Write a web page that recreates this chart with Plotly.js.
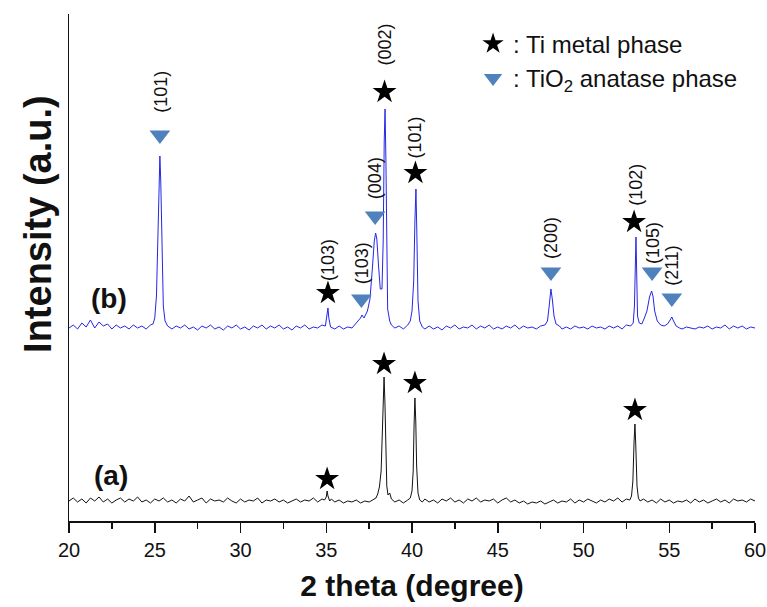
<!DOCTYPE html>
<html>
<head>
<meta charset="utf-8">
<script src="https://cdn.plot.ly/plotly-3.0.1.min.js"></script>
<style>html,body{margin:0;padding:0;background:#fff;}#chart{width:767px;height:607px;}</style>
</head>
<body>
<div id="chart"></div>
<script>
// ---- Pattern (a): Ti metal (black) ----
const xA = [20,20.25,20.5,20.75,21,21.25,21.5,21.75,22,22.25,22.5,22.75,23,23.25,23.5,23.75,24,24.25,24.5,24.75,25,25.25,25.5,25.75,26,26.25,26.5,26.75,27,27.25,27.5,27.75,28,28.25,28.5,28.75,29,29.25,29.5,29.75,30,30.25,30.5,30.75,31,31.25,31.5,31.75,32,32.25,32.5,32.75,33,33.25,33.5,33.75,34,34.25,34.5,34.75,
  34.9,35,35.05,35.1,35.2,35.3,
  35.5,35.75,36,36.25,36.5,36.75,37,37.25,37.5,37.75,
  37.9,38,38.1,38.2,38.27,38.33,38.37,38.42,38.47,38.53,38.6,38.7,38.8,
  39,39.25,39.5,39.75,
  39.9,40,40.07,40.12,40.17,40.22,40.27,40.35,40.45,40.6,
  40.75,41,41.25,41.5,41.75,42,42.25,42.5,42.75,43,43.25,43.5,43.75,44,44.25,44.5,44.75,45,45.25,45.5,45.75,46,46.25,46.5,46.75,47,47.25,47.5,47.75,48,48.25,48.5,48.75,49,49.25,49.5,49.75,50,50.25,50.5,50.75,51,51.25,51.5,51.75,52,52.25,52.5,
  52.7,52.8,52.88,52.95,53,53.05,53.12,53.2,53.3,
  53.5,53.75,54,54.25,54.5,54.75,55,55.25,55.5,55.75,56,56.25,56.5,56.75,57,57.25,57.5,57.75,58,58.25,58.5,58.75,59,59.25,59.5,59.75,60];
const yA = [20,23,19,22,18,23,20,24,19,22, 18,21,23,19,22,20,24,19,21,18, 22,20,23,19,21,18,22,20,25,19, 21,23,18,22,20,21,19,23,20,18, 22,19,21,20,23,18,21,20,22,19, 21,18,20,22,19,21,20,23,19,22,
  21,24,30,25,20,22,
  19,21,18,20,19,21,18,20,19,22,
  23,27,34,50,85,130,144,120,70,35,26,28,22,
  19,21,18,21,
  23,30,50,95,123,100,55,28,21,19,
  22,19,21,18,22,20,23,19,21,18, 22,20,23,19,21,20,22,18,21,23, 19,21,18,20,17,19,18,20,17,19, 21,18,20,19,22,18,21,19,22,20, 18,21,19,22,20,23,19,22,
  21,25,40,80,97,75,35,23,20,
  22,19,21,18,22,19,21,18,20,19, 21,18,22,19,21,18,20,22,19,21, 18,22,20,21,19,22,20];

// ---- Pattern (b): Ti + TiO2 anatase (blue) ----
const xB = [20,20.25,20.5,20.75,21,21.25,21.5,21.75,22,22.25,22.5,22.75,23,23.25,23.5,23.75,24,24.25,24.5,24.75,
  24.9,25,25.1,25.18,25.25,25.3,25.35,25.42,25.5,25.6,
  25.75,26,26.25,26.5,26.75,27,27.25,27.5,27.75,28,28.25,28.5,28.75,29,29.25,29.5,29.75,30,30.25,30.5,30.75,31,31.25,31.5,31.75,32,32.25,32.5,32.75,33,33.25,33.5,33.75,34,34.25,34.5,34.75,
  34.95,35.05,35.1,35.15,35.25,
  35.5,35.75,36,36.25,36.5,36.75,
  37,37.08,37.2,37.4,37.55,37.7,37.8,37.88,37.95,38.05,38.15,38.25,38.32,38.38,38.43,38.48,38.53,38.58,38.63,38.7,38.8,
  39,39.25,39.5,39.75,
  39.9,40,40.1,40.17,40.23,40.28,40.35,40.45,40.6,
  40.75,41,41.25,41.5,41.75,42,42.25,42.5,42.75,43,43.25,43.5,43.75,44,44.25,44.5,44.75,45,45.25,45.5,45.75,46,46.25,46.5,46.75,47,47.25,47.5,47.75,
  47.9,48,48.05,48.1,48.18,48.28,48.4,48.6,
  48.75,49,49.25,49.5,49.75,50,50.25,50.5,50.75,51,51.25,51.5,51.75,52,52.25,52.5,52.75,
  52.9,52.97,53.02,53.06,53.1,53.15,53.25,53.4,53.55,53.7,53.85,53.97,54.05,54.15,54.3,54.5,54.7,54.9,55.05,55.15,55.25,55.4,55.6,
  55.75,56,56.25,56.5,56.75,57,57.25,57.5,57.75,58,58.25,58.5,58.75,59,59.25,59.5,59.75,60];
const yB = [193,196,192,198,194,201,193,199,195,197, 192,196,193,195,192,196,193,195,192,196,
  197,203,225,280,345,365,340,270,215,200,
  195,192,195,193,196,192,194,191,195,193, 196,192,194,191,195,193,196,192,194,191, 195,193,196,192,195,193,196,192,194,191, 195,193,196,192,194,193,196,
  195,205,213,203,194,
  192,195,192,194,193,198,
  203,206,203,210,222,255,280,288,282,255,232,232,280,380,412,360,250,212,207,200,196,
  193,195,192,196,
  200,210,240,300,332,290,220,200,194,
  192,195,192,194,191,195,193,196,192,194, 193,196,192,195,193,196,192,194,192,195, 193,196,192,195,193,194,192,195,196,
  200,215,228,232,222,205,197,195,
  192,194,192,195,193,194,192,195,193,194, 192,195,193,195,192,196,195,
  198,215,270,284,250,205,198,197,203,210,224,230,225,210,200,196,195,197,201,204,200,195,193,
  192,194,193,192,194,193,195,192,194,193, 196,192,195,193,195,192,194,193];

// ---- Phase markers ----
const starX = [35.05, 38.37, 40.17, 53.0, 35.1, 38.4, 40.2, 52.95];
const starY = [42, 157, 138, 111, 228, 429, 348, 299];
const triX = [25.3, 37.05, 37.85, 48.1, 54.0, 55.15];
const triY = [386, 222, 305, 249, 249, 223];

// ---- Miller index labels ----
const hklText = ['(101)','(103)','(103)','(004)','(002)','(101)','(200)','(102)','(105)','(211)'];
const hklX = [25.35, 35.1, 37.1, 37.85, 38.45, 40.2, 48.1, 53.05, 54.05, 55.15];
const hklY = [429, 261, 258, 343, 477, 384, 283, 336, 278, 256];

const xTicks = [20,25,30,35,40,45,50,55,60];
const xTickText = ['20','25','30','35','40','45','50','55','60'];

const FONT = 'Arial, "Liberation Sans", sans-serif';
const TRI_COLOR = '#4f81bd';

const traces = [
  {x: xA, y: yA, type: 'scatter', mode: 'lines', line: {color: '#111111', width: 1}, showlegend: false, hoverinfo: 'skip'},
  {x: xB, y: yB, type: 'scatter', mode: 'lines', line: {color: '#2626e6', width: 1}, showlegend: false, hoverinfo: 'skip'},
  {x: starX, y: starY, type: 'scatter', mode: 'markers', name: ': Ti metal phase',
   marker: {symbol: 'star', size: 18, color: '#000000', line: {width: 0}}},
  {x: triX, y: triY, type: 'scatter', mode: 'markers', name: ': TiO<sub>2</sub> anatase phase',
   marker: {symbol: 'triangle-down', size: 18, color: TRI_COLOR, line: {width: 0}}}
];

const annotations = hklText.map((t, i) => ({
  x: hklX[i], y: hklY[i], xref: 'x', yref: 'y', text: t, showarrow: false,
  textangle: -90, xanchor: 'center', yanchor: 'middle',
  font: {family: FONT, size: 18, color: '#111'}
}));
annotations.push(
  {x: 22.33, y: 223, xref: 'x', yref: 'y', text: '(b)', showarrow: false, xanchor: 'center', yanchor: 'middle',
   font: {family: FONT, size: 28, color: '#111', weight: 'bold'}},
  {x: 22.45, y: 46, xref: 'x', yref: 'y', text: '(a)', showarrow: false, xanchor: 'center', yanchor: 'middle',
   font: {family: FONT, size: 28, color: '#111', weight: 'bold'}},
  {x: 0, y: 0.586, xref: 'paper', yref: 'paper', xshift: -31, text: 'Intensity (a.u.)', showarrow: false,
   textangle: -90, xanchor: 'center', yanchor: 'middle',
   font: {family: FONT, size: 38, color: '#111', weight: 'bold'}}
);

const layout = {
  width: 767, height: 607,
  margin: {l: 69, r: 12, t: 14, b: 86},
  paper_bgcolor: '#ffffff', plot_bgcolor: '#ffffff',
  font: {family: FONT, color: '#111'},
  showlegend: true,
  legend: {x: 0.589, y: 0.985, xanchor: 'left', yanchor: 'top', bgcolor: 'rgba(0,0,0,0)',
           font: {family: FONT, size: 24, color: '#111'}, itemsizing: 'trace'},
  xaxis: {
    range: [20, 60], showline: true, linecolor: '#111', linewidth: 1.5,
    ticks: 'outside', ticklen: 10, tickwidth: 1.5, tickcolor: '#111',
    tickmode: 'array', tickvals: xTicks, ticktext: xTickText,
    tickfont: {family: FONT, size: 20, color: '#111'},
    showgrid: false, zeroline: false,
    minor: {dtick: 2.5, tick0: 20, ticks: 'outside', ticklen: 6, tickwidth: 1.5, tickcolor: '#111', showgrid: false},
    title: {text: '2 theta (degree)', font: {family: FONT, size: 30, color: '#111', weight: 'bold'}, standoff: 15}
  },
  yaxis: {
    range: [0, 507], showline: true, linecolor: '#111', linewidth: 1.5,
    ticks: '', showticklabels: false, showgrid: false, zeroline: false
  },
  annotations: annotations
};

Plotly.newPlot('chart', traces, layout, {displayModeBar: false, staticPlot: true});
</script>
</body>
</html>
